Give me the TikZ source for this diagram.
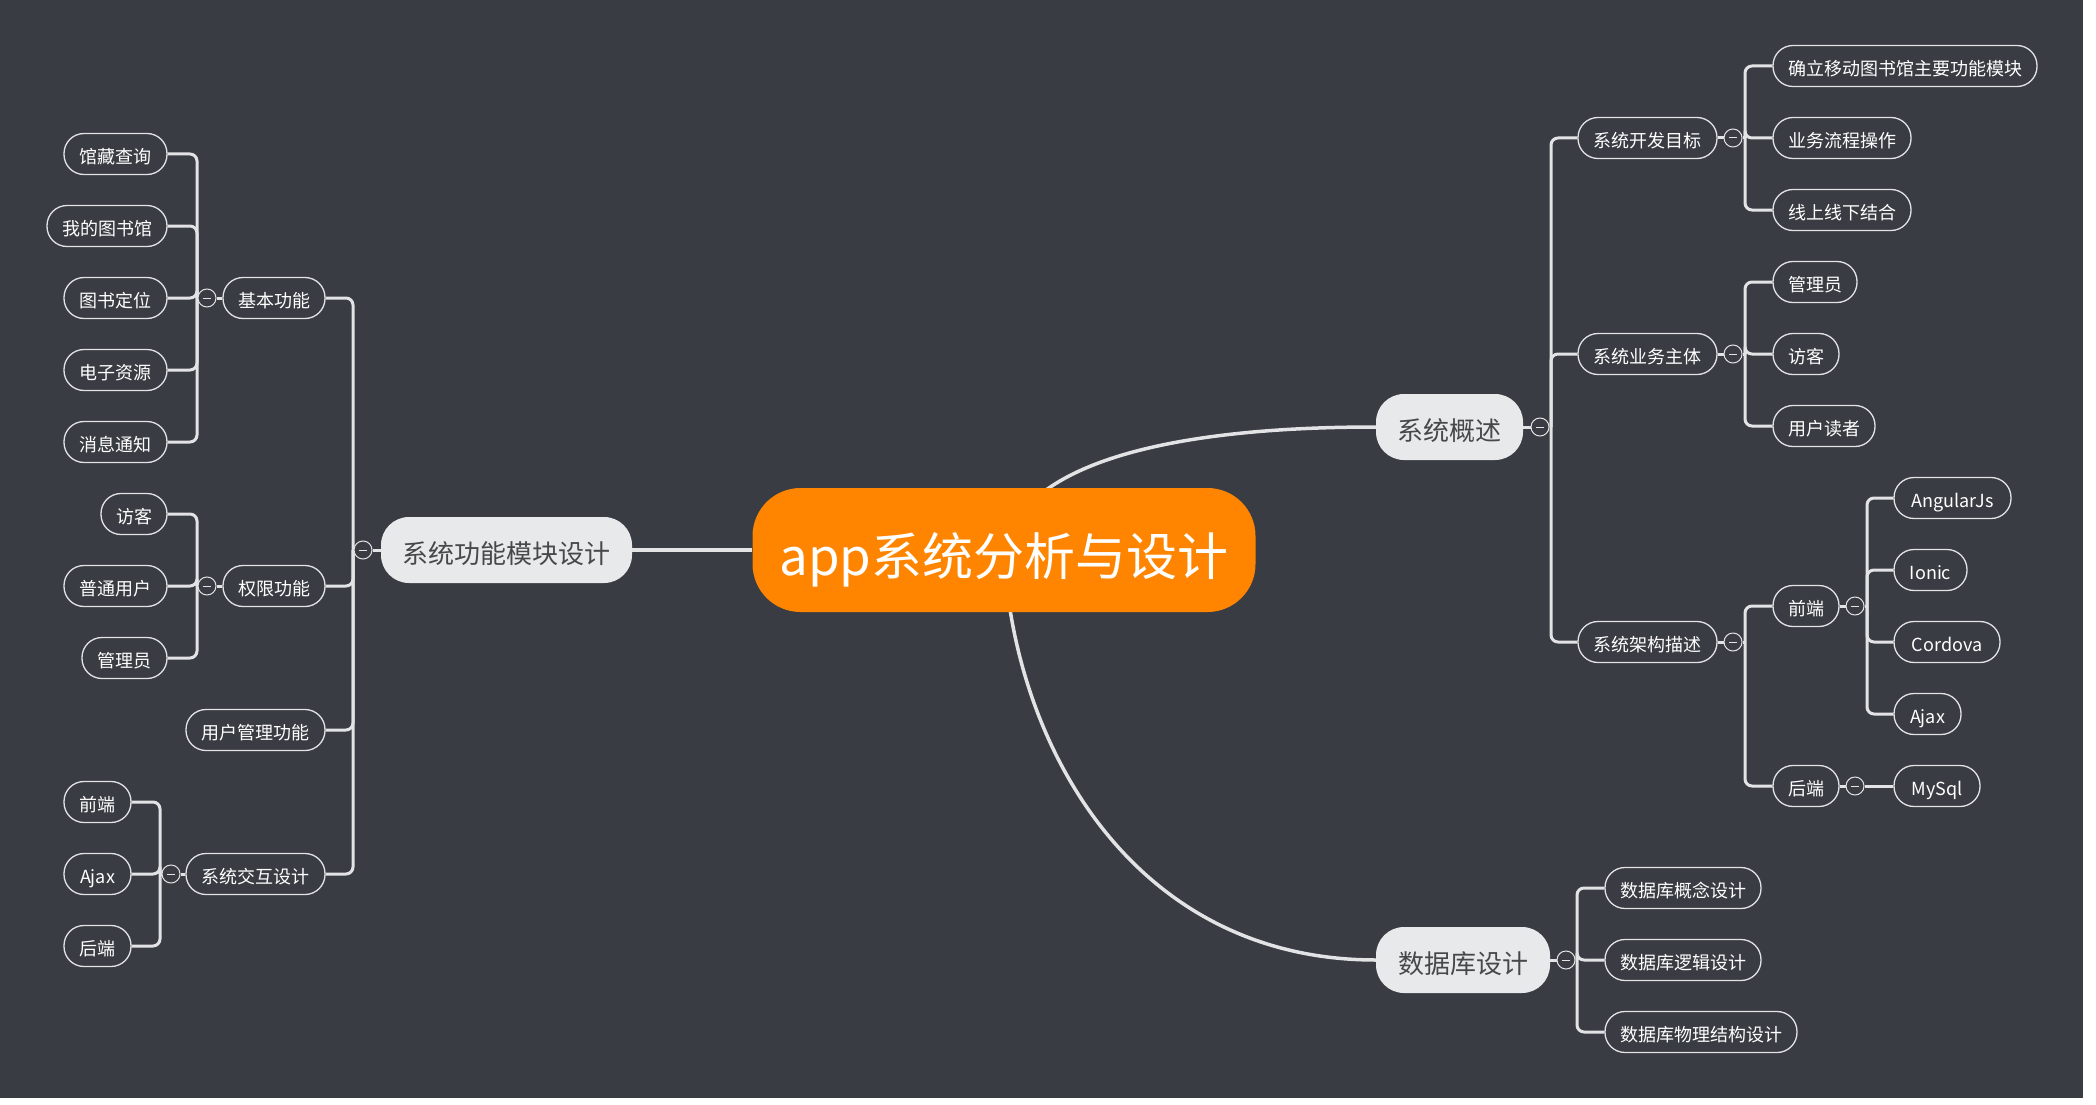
\documentclass[tikz,border=0pt]{standalone}
\usepackage{fontspec}
\setmainfont{Noto Sans CJK SC}
\usetikzlibrary{calc}
\definecolor{bgc}{RGB}{57,60,66}
\definecolor{org}{RGB}{255,133,0}
\definecolor{lt}{RGB}{232,233,235}
\definecolor{ln}{RGB}{226,227,229}
\definecolor{dk}{RGB}{72,72,72}
\pgfdeclarelayer{back}
\pgfdeclarelayer{links}
\pgfsetlayers{back,links,main}
\tikzset{
 leaf/.style={draw=ln, line width=1.3pt, rounded corners=20pt, minimum height=41pt, inner sep=0pt, text=white, font=\fontsize{18}{20}\selectfont, text height=20pt, text depth=0.4pt},
 topic/.style={fill=lt, rounded corners=28pt, minimum height=66pt, inner sep=0pt, text=dk, font=\fontsize{26}{28}\selectfont, text height=30pt, text depth=2.2pt},
 central/.style={fill=org, rounded corners=48pt, minimum width=503pt, minimum height=124pt, inner sep=0pt, text=white, font=\fontsize{51}{56}\selectfont, text height=55pt, text depth=4.2pt},
 fold/.style={circle, draw=ln, line width=1pt, fill=bgc, minimum size=18pt, inner sep=0pt},
 conn/.style={draw=ln, line width=3pt},
 bar/.style={conn, rounded corners=7pt},
 curve/.style={draw=ln, line width=3.5pt},
}
\newcommand{\minussign}{\textcolor{ln}{\rule{8pt}{1pt}}}
\begin{document}
\begin{tikzpicture}[x=1pt, y=-1pt]
\begin{pgfonlayer}{back}
\fill[white] (0,0) rectangle (2096,1105);
\fill[bgc] (0,0) rectangle (2083,1098);
\end{pgfonlayer}
\useasboundingbox (0,0) rectangle (2096,1105);

% central
\node[central] (root) at (1004,550) {app系统分析与设计};

% ---------- left branch ----------
\node[topic, minimum width=251pt] (s2) at (506.5,550) {系统功能模块设计};
\node[fold] (s2f) at (363,550) {\minussign};
\coordinate (s2j) at (353,550);

\node[leaf, minimum width=102pt] (b) at (274,298) {基本功能};
\node[leaf, minimum width=102pt] (c) at (274,586) {权限功能};
\node[leaf, minimum width=139pt] (d) at (255.5,730) {用户管理功能};
\node[leaf, minimum width=139pt] (e) at (255.5,874) {系统交互设计};

\node[fold] (bf) at (207,298) {\minussign};
\coordinate (bj) at (197,298);
\node[leaf, minimum width=103pt] (a1) at (115.5,154) {馆藏查询};
\node[leaf, minimum width=120pt] (a2) at (107,226) {我的图书馆};
\node[leaf, minimum width=103pt] (a3) at (115.5,298) {图书定位};
\node[leaf, minimum width=103pt] (a4) at (115.5,370) {电子资源};
\node[leaf, minimum width=103pt] (a5) at (115.5,442) {消息通知};

\node[fold] (cf) at (207,586) {\minussign};
\coordinate (cj) at (197,586);
\node[leaf, minimum width=66pt] (c1) at (134,514) {访客};
\node[leaf, minimum width=103pt] (c2) at (115.5,586) {普通用户};
\node[leaf, minimum width=85pt] (c3) at (124.5,658) {管理员};

\node[fold] (ef) at (171,874) {\minussign};
\coordinate (ej) at (160,874);
\node[leaf, minimum width=67pt] (e1) at (97.5,802) {前端};
\node[leaf, minimum width=67pt] (e2) at (97.5,874) {Ajax};
\node[leaf, minimum width=67pt] (e3) at (97.5,946) {后端};

% ---------- right upper branch ----------
\node[topic, minimum width=147pt] (s1) at (1449.5,427) {系统概述};
\node[fold] (s1f) at (1540,427) {\minussign};
\coordinate (s1j) at (1551,427);

\node[leaf, minimum width=139pt] (f1) at (1647.5,138) {系统开发目标};
\node[fold] (f1f) at (1733,138) {\minussign};
\coordinate (f1j) at (1745,138);
\node[leaf, minimum width=264pt] (g1) at (1905,66) {确立移动图书馆主要功能模块};
\node[leaf, minimum width=138pt] (g2) at (1842,138) {业务流程操作};
\node[leaf, minimum width=138pt] (g3) at (1842,210) {线上线下结合};

\node[leaf, minimum width=139pt] (f2) at (1647.5,354) {系统业务主体};
\node[fold] (f2f) at (1733,354) {\minussign};
\coordinate (f2j) at (1745,354);
\node[leaf, minimum width=84pt] (h1) at (1815,282) {管理员};
\node[leaf, minimum width=66pt] (h2) at (1806,354) {访客};
\node[leaf, minimum width=102pt] (h3) at (1824,426) {用户读者};

\node[leaf, minimum width=139pt] (f3) at (1647.5,642) {系统架构描述};
\node[fold] (f3f) at (1733,642) {\minussign};
\coordinate (f3j) at (1745,642);
\node[leaf, minimum width=66pt] (k1) at (1806,606) {前端};
\node[fold] (k1f) at (1855,606) {\minussign};
\coordinate (k1j) at (1867,606);
\node[leaf, minimum width=117pt] (m1) at (1952.5,498) {AngularJs};
\node[leaf, minimum width=73pt] (m2) at (1930.5,570) {Ionic};
\node[leaf, minimum width=106pt] (m3) at (1947,642) {Cordova};
\node[leaf, minimum width=67pt] (m4) at (1927.5,714) {Ajax};
\node[leaf, minimum width=66pt] (k2) at (1806,786) {后端};
\node[fold] (k2f) at (1855,786) {\minussign};
\node[leaf, minimum width=86pt] (n1) at (1937,786) {MySql};

% ---------- right lower branch ----------
\node[topic, minimum width=174pt] (s3) at (1463,960) {数据库设计};
\node[fold] (s3f) at (1566,960) {\minussign};
\coordinate (s3j) at (1577,960);
\node[leaf, minimum width=156pt] (p1) at (1683,888) {数据库概念设计};
\node[leaf, minimum width=156pt] (p2) at (1683,960) {数据库逻辑设计};
\node[leaf, minimum width=192pt] (p3) at (1701,1032) {数据库物理结构设计};

\begin{pgfonlayer}{links}
% main curves
\draw[curve] (root.center) .. controls (1020,470) and (1150,427) .. (s1.west);
\draw[curve] (root.center) .. controls (1012,740) and (1130,960) .. (s3.west);
\draw[curve] (root.west) -- (s2.east);

% left
\draw[conn] (s2.west) -- (s2f.east);
\draw[conn] (s2f.west) -- (s2j);
\foreach \n in {b,c,d,e} \draw[bar] (s2j) |- (\n.east);
\draw[conn] (b.west) -- (bf.east);
\draw[conn] (bf.west) -- (bj);
\foreach \n in {a1,a2,a3,a4,a5} \draw[bar] (bj) |- (\n.east);
\draw[conn] (c.west) -- (cf.east);
\draw[conn] (cf.west) -- (cj);
\foreach \n in {c1,c2,c3} \draw[bar] (cj) |- (\n.east);
\draw[conn] (e.west) -- (ef.east);
\draw[conn] (ef.west) -- (ej);
\foreach \n in {e1,e2,e3} \draw[bar] (ej) |- (\n.east);

% right upper
\draw[conn] (s1.east) -- (s1f.west);
\draw[conn] (s1f.east) -- (s1j);
\foreach \n in {f1,f2,f3} \draw[bar] (s1j) |- (\n.west);
\draw[conn] (f1.east) -- (f1f.west);
\draw[conn] (f1f.east) -- (f1j);
\foreach \n in {g1,g2,g3} \draw[bar] (f1j) |- (\n.west);
\draw[conn] (f2.east) -- (f2f.west);
\draw[conn] (f2f.east) -- (f2j);
\foreach \n in {h1,h2,h3} \draw[bar] (f2j) |- (\n.west);
\draw[conn] (f3.east) -- (f3f.west);
\draw[conn] (f3f.east) -- (f3j);
\foreach \n in {k1,k2} \draw[bar] (f3j) |- (\n.west);
\draw[conn] (k1.east) -- (k1f.west);
\draw[conn] (k1f.east) -- (k1j);
\foreach \n in {m1,m2,m3,m4} \draw[bar] (k1j) |- (\n.west);
\draw[conn] (k2.east) -- (k2f.west);
\draw[conn] (k2f.east) -- (n1.west);

% right lower
\draw[conn] (s3.east) -- (s3f.west);
\draw[conn] (s3f.east) -- (s3j);
\foreach \n in {p1,p2,p3} \draw[bar] (s3j) |- (\n.west);
\end{pgfonlayer}
\end{tikzpicture}
\end{document}
